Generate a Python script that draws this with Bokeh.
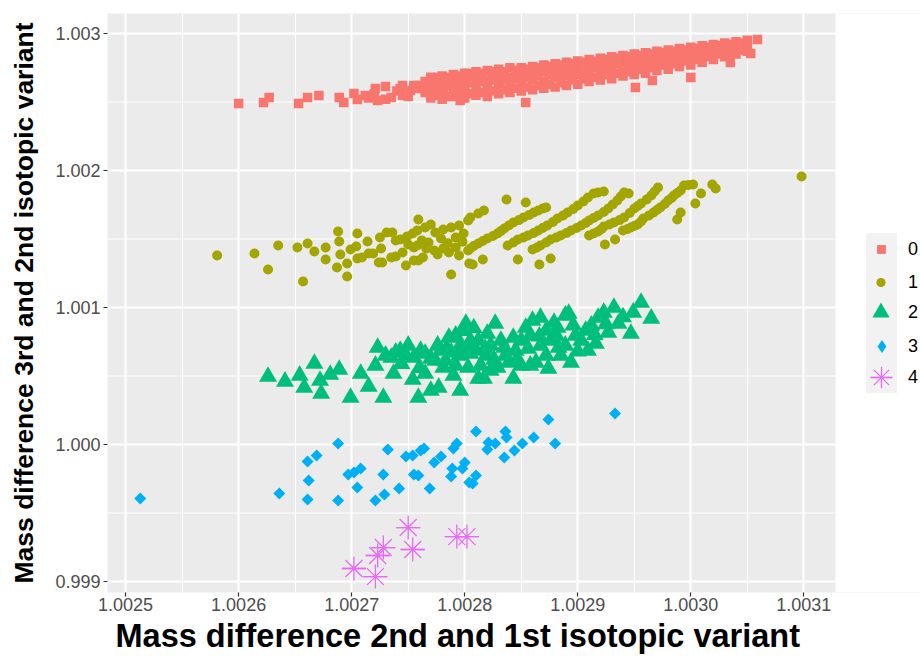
import math
from bokeh.plotting import figure
from bokeh.models import Range1d, FixedTicker, Legend, LegendItem, BoxAnnotation, Title
from bokeh.embed import file_html
from bokeh.resources import INLINE

# ---------------- data ----------------
categories = ["0", "1", "2", "3", "4"]
colors = ["#F8766D", "#A3A500", "#00BF7D", "#00B0F6", "#E76BF3"]

x_ticks = [1.0025, 1.0026, 1.0027, 1.0028, 1.0029, 1.0030, 1.0031]
x_tick_labels = ["1.0025", "1.0026", "1.0027", "1.0028", "1.0029", "1.0030", "1.0031"]
x_minor = [1.00255, 1.00265, 1.00275, 1.00285, 1.00295, 1.00305]
y_ticks = [0.999, 1.000, 1.001, 1.002, 1.003]
y_tick_labels = ["0.999", "1.000", "1.001", "1.002", "1.003"]
y_minor = [0.9995, 1.0005, 1.0015, 1.0025]

# panel limits
x_limits = (1.002484, 1.003128)
y_limits = (0.99892, 1.003146)

x_title = "Mass difference 2nd and 1st isotopic variant"
y_title = "Mass difference 3rd and 2nd isotopic variant"

pts0 = [
    (1.002600, 1.002489), (1.002622, 1.002496), (1.002627, 1.002533), (1.002653, 1.002489),
    (1.002661, 1.002533), (1.002671, 1.002547), (1.002689, 1.002533), (1.002693, 1.002496),
    (1.002702, 1.002562), (1.002705, 1.002518), (1.002712, 1.002547), (1.002721, 1.002598),
    (1.002723, 1.002511), (1.002730, 1.002613), (1.002735, 1.002533), (1.002743, 1.002598),
    (1.002752, 1.002584), (1.002758, 1.002598), (1.002767, 1.002620), (1.002776, 1.002679),
    (1.002781, 1.002598), (1.002790, 1.002679), (1.002796, 1.002511), (1.002803, 1.002708),
    (1.002720, 1.002560), (1.002740, 1.002580), (1.002750, 1.002540), (1.002760, 1.002620),
    (1.002730, 1.002520), (1.002715, 1.002530), (1.002745, 1.002550), (1.002755, 1.002620),
    (1.002765, 1.002570), (1.002765, 1.002650), (1.002745, 1.002620),
    (1.002854, 1.002496), (1.002951, 1.002606), (1.002966, 1.002657), (1.003000, 1.002679),
    (1.003059, 1.002956), (1.003053, 1.002854), (1.003035, 1.002788),
    (1.00277, 1.00253), (1.00277, 1.00259), (1.00277, 1.00264), (1.00277, 1.00268),
    (1.00278, 1.00252), (1.00278, 1.00257), (1.00278, 1.00263), (1.00278, 1.00269),
    (1.00279, 1.00254), (1.00279, 1.00260), (1.00279, 1.00266), (1.00279, 1.00270),
    (1.00280, 1.00253), (1.00280, 1.00258), (1.00280, 1.00264), (1.00280, 1.00271),
    (1.00281, 1.00255), (1.00281, 1.00261), (1.00281, 1.00267), (1.00281, 1.00272),
    (1.00282, 1.00254), (1.00282, 1.00260), (1.00282, 1.00266), (1.00282, 1.00273),
    (1.00283, 1.00256), (1.00283, 1.00263), (1.00283, 1.00269), (1.00283, 1.00274),
    (1.00284, 1.00257), (1.00284, 1.00262), (1.00284, 1.00268), (1.00284, 1.00275),
    (1.00285, 1.00258), (1.00285, 1.00264), (1.00285, 1.00270), (1.00285, 1.00275),
    (1.00286, 1.00259), (1.00286, 1.00266), (1.00286, 1.00271), (1.00286, 1.00276),
    (1.00287, 1.00260), (1.00287, 1.00265), (1.00287, 1.00272), (1.00287, 1.00277),
    (1.00288, 1.00261), (1.00288, 1.00268), (1.00288, 1.00273), (1.00288, 1.00278),
    (1.00289, 1.00262), (1.00289, 1.00269), (1.00289, 1.00275), (1.00289, 1.00279),
    (1.00290, 1.00263), (1.00290, 1.00270), (1.00290, 1.00274), (1.00290, 1.00280),
    (1.00291, 1.00265), (1.00291, 1.00271), (1.00291, 1.00276), (1.00291, 1.00281),
    (1.00292, 1.00266), (1.00292, 1.00272), (1.00292, 1.00278), (1.00292, 1.00282),
    (1.00293, 1.00267), (1.00293, 1.00274), (1.00293, 1.00279), (1.00293, 1.00283),
    (1.00294, 1.00269), (1.00294, 1.00275), (1.00294, 1.00280), (1.00294, 1.00284),
    (1.00295, 1.00270), (1.00295, 1.00276), (1.00295, 1.00281), (1.00295, 1.00285),
    (1.00296, 1.00271), (1.00296, 1.00277), (1.00296, 1.00282), (1.00296, 1.00286),
    (1.00297, 1.00273), (1.00297, 1.00279), (1.00297, 1.00283), (1.00297, 1.00287),
    (1.00298, 1.00274), (1.00298, 1.00280), (1.00298, 1.00285), (1.00298, 1.00288),
    (1.00299, 1.00276), (1.00299, 1.00281), (1.00299, 1.00286), (1.00299, 1.00289),
    (1.00300, 1.00277), (1.00300, 1.00283), (1.00300, 1.00287), (1.00300, 1.00290),
    (1.00301, 1.00279), (1.00301, 1.00284), (1.00301, 1.00288), (1.00301, 1.00291),
    (1.00302, 1.00281), (1.00302, 1.00286), (1.00302, 1.00290), (1.00302, 1.00292),
    (1.00303, 1.00283), (1.00303, 1.00287), (1.00303, 1.00291), (1.00303, 1.00293),
    (1.00304, 1.00285), (1.00304, 1.00289), (1.00304, 1.00292), (1.00304, 1.00294),
    (1.00305, 1.00287), (1.00305, 1.00290), (1.00305, 1.00293), (1.00305, 1.00295),
    (1.002775, 1.00255), (1.002775, 1.00261), (1.002775, 1.00266),
    (1.002785, 1.00254), (1.002785, 1.00262), (1.002785, 1.00268),
    (1.002795, 1.00256), (1.002795, 1.00263), (1.002795, 1.00269),
    (1.002805, 1.00256), (1.002805, 1.00264), (1.002805, 1.00270),
    (1.002815, 1.00257), (1.002815, 1.00265), (1.002815, 1.00271),
    (1.002825, 1.00258), (1.002825, 1.00266), (1.002825, 1.00272),
    (1.002835, 1.00259), (1.002835, 1.00266), (1.002835, 1.00272),
    (1.002845, 1.00260), (1.002845, 1.00267), (1.002845, 1.00273),
    (1.002855, 1.00261), (1.002855, 1.00268), (1.002855, 1.00274),
    (1.002865, 1.00262), (1.002865, 1.00269), (1.002865, 1.00275),
    (1.002875, 1.00263), (1.002875, 1.00270), (1.002875, 1.00276),
    (1.002885, 1.00264), (1.002885, 1.00271), (1.002885, 1.00277),
    (1.002895, 1.00266), (1.002895, 1.00272), (1.002895, 1.00278),
    (1.002905, 1.00267), (1.002905, 1.00274), (1.002905, 1.00279),
    (1.002915, 1.00268), (1.002915, 1.00275), (1.002915, 1.00280),
    (1.002925, 1.00270), (1.002925, 1.00276), (1.002925, 1.00281),
    (1.002935, 1.00271), (1.002935, 1.00278), (1.002935, 1.00282),
    (1.002945, 1.00272), (1.002945, 1.00279), (1.002945, 1.00283),
    (1.002955, 1.00274), (1.002955, 1.00280), (1.002955, 1.00284),
    (1.002965, 1.00275), (1.002965, 1.00281), (1.002965, 1.00285),
    (1.002975, 1.00277), (1.002975, 1.00282), (1.002975, 1.00286),
    (1.002985, 1.00278), (1.002985, 1.00284), (1.002985, 1.00287),
    (1.002995, 1.00280), (1.002995, 1.00285), (1.002995, 1.00288),
    (1.003005, 1.00281), (1.003005, 1.00286), (1.003005, 1.00289),
    (1.003015, 1.00283), (1.003015, 1.00287), (1.003015, 1.00290),
    (1.003025, 1.00285), (1.003025, 1.00289), (1.003025, 1.00291),
    (1.003035, 1.00286), (1.003035, 1.00290), (1.003035, 1.00292),
    (1.003045, 1.00288), (1.003045, 1.00291), (1.003045, 1.00293),
]

pts1 = [
    (1.002581, 1.001380), (1.002614, 1.001394), (1.002626, 1.001277), (1.002635, 1.001453),
    (1.002652, 1.001438), (1.002657, 1.001190), (1.002661, 1.001467), (1.002667, 1.001409),
    (1.002677, 1.001438), (1.002677, 1.001350), (1.002687, 1.001292), (1.002688, 1.001555),
    (1.002689, 1.001482), (1.002690, 1.001387), (1.002696, 1.001321), (1.002696, 1.001226),
    (1.002699, 1.001423), (1.002704, 1.001445), (1.002705, 1.001540), (1.002705, 1.001358),
    (1.002709, 1.001365), (1.002714, 1.001482), (1.002715, 1.001394), (1.002719, 1.001394),
    (1.002725, 1.001511), (1.002726, 1.001431), (1.002724, 1.001328), (1.002727, 1.001328),
    (1.002731, 1.001547), (1.002736, 1.001547), (1.002735, 1.001365), (1.002739, 1.001489),
    (1.002739, 1.001372), (1.002743, 1.001496), (1.002745, 1.001401), (1.002748, 1.001307),
    (1.002749, 1.001518), (1.002754, 1.001540), (1.002755, 1.001438), (1.002755, 1.001343),
    (1.002759, 1.001642), (1.002758, 1.001562), (1.002758, 1.001453), (1.002759, 1.001343),
    (1.002763, 1.001365), (1.002765, 1.001584), (1.002770, 1.001606), (1.002768, 1.001474),
    (1.002773, 1.001416), (1.002774, 1.001547), (1.002779, 1.001504), (1.002781, 1.001569),
    (1.002781, 1.001431), (1.002788, 1.001241), (1.002788, 1.001584), (1.002792, 1.001511),
    (1.002792, 1.001438), (1.002795, 1.001599), (1.002795, 1.001380), (1.002799, 1.001540),
    (1.002803, 1.001635), (1.002803, 1.001416), (1.002804, 1.001321),
    (1.002750, 1.001460), (1.002762, 1.001490), (1.002785, 1.001470), (1.002798, 1.001480),
    (1.002776, 1.001387), (1.002786, 1.001401), (1.002766, 1.001431),
    (1.002805, 1.001657), (1.002812, 1.001686), (1.002817, 1.001708),
    (1.002805, 1.001431), (1.002812, 1.001467), (1.002820, 1.001504), (1.002829, 1.001540),
    (1.002835, 1.001577), (1.002843, 1.001620), (1.002852, 1.001657), (1.002861, 1.001693),
    (1.002869, 1.001723), (1.002872, 1.001730), (1.002837, 1.001788), (1.002854, 1.001766),
    (1.002808, 1.001449), (1.002816, 1.001486), (1.002825, 1.001522), (1.002832, 1.001558),
    (1.002839, 1.001598), (1.002848, 1.001638), (1.002857, 1.001675), (1.002865, 1.001708),
    (1.002838, 1.001453), (1.002847, 1.001496), (1.002856, 1.001526), (1.002865, 1.001562),
    (1.002873, 1.001599), (1.002882, 1.001650), (1.002891, 1.001693), (1.002900, 1.001745),
    (1.002909, 1.001803), (1.002914, 1.001832), (1.002923, 1.001847),
    (1.002843, 1.001474), (1.002852, 1.001511), (1.002861, 1.001544), (1.002869, 1.001580),
    (1.002878, 1.001624), (1.002887, 1.001672), (1.002896, 1.001719), (1.002905, 1.001774),
    (1.002918, 1.001840),
    (1.002860, 1.001423), (1.002867, 1.001453), (1.002876, 1.001496), (1.002885, 1.001526),
    (1.002894, 1.001562), (1.002903, 1.001599), (1.002910, 1.001635), (1.002918, 1.001672),
    (1.002927, 1.001723), (1.002935, 1.001781), (1.002941, 1.001839), (1.002945, 1.001832),
    (1.002864, 1.001438), (1.002872, 1.001474), (1.002881, 1.001511), (1.002890, 1.001544),
    (1.002899, 1.001580), (1.002907, 1.001617), (1.002914, 1.001653), (1.002923, 1.001697),
    (1.002931, 1.001752), (1.002938, 1.001810),
    (1.002910, 1.001526), (1.002918, 1.001555), (1.002923, 1.001591), (1.002932, 1.001620),
    (1.002941, 1.001657), (1.002950, 1.001723), (1.002956, 1.001759), (1.002965, 1.001818),
    (1.002971, 1.001876),
    (1.002914, 1.001540), (1.002921, 1.001573), (1.002928, 1.001606), (1.002937, 1.001638),
    (1.002946, 1.001690), (1.002953, 1.001741), (1.002961, 1.001788), (1.002968, 1.001847),
    (1.002940, 1.001562), (1.002947, 1.001584), (1.002953, 1.001606), (1.002958, 1.001650),
    (1.002967, 1.001693), (1.002973, 1.001730), (1.002980, 1.001781), (1.002985, 1.001818),
    (1.002991, 1.001854), (1.002994, 1.001891), (1.003002, 1.001898),
    (1.002944, 1.001573), (1.002950, 1.001595), (1.002956, 1.001628), (1.002963, 1.001672),
    (1.002970, 1.001712), (1.002977, 1.001755), (1.002983, 1.001800), (1.002988, 1.001836),
    (1.002998, 1.001895),
    (1.003019, 1.001898), (1.003022, 1.001869), (1.003009, 1.001832), (1.003004, 1.001759),
    (1.002991, 1.001693), (1.002988, 1.001642), (1.003098, 1.001956),
    (1.002807, 1.001314), (1.002816, 1.001350), (1.002847, 1.001350), (1.002866, 1.001314),
    (1.002876, 1.001358), (1.002924, 1.001460), (1.002933, 1.001496),
]

pts2 = [
    (1.002626, 1.000496), (1.002641, 1.000460), (1.002654, 1.000504), (1.002658, 1.000416),
    (1.002667, 1.000591), (1.002672, 1.000467), (1.002673, 1.000372), (1.002681, 1.000511),
    (1.002689, 1.000547), (1.002699, 1.000343), (1.002708, 1.000518), (1.002715, 1.000423),
    (1.002723, 1.000708), (1.002721, 1.000577), (1.002728, 1.000343), (1.002735, 1.000635),
    (1.002737, 1.000518), (1.002743, 1.000686), (1.002750, 1.000723), (1.002754, 1.000474),
    (1.002755, 1.000635), (1.002759, 1.000343), (1.002765, 1.000664), (1.002765, 1.000518),
    (1.002770, 1.000394), (1.002776, 1.000723), (1.002777, 1.000416), (1.002781, 1.000562),
    (1.002786, 1.000781), (1.002790, 1.000504), (1.002792, 1.000796), (1.002796, 1.000394),
    (1.002801, 1.000883), (1.002803, 1.000701), (1.002803, 1.000562),
    (1.002827, 1.000883), (1.002820, 1.000810), (1.002812, 1.000759), (1.002805, 1.000664),
    (1.002814, 1.000577), (1.002812, 1.000482), (1.002817, 1.000482), (1.002829, 1.000562),
    (1.002839, 1.000599), (1.002843, 1.000482), (1.002835, 1.000708), (1.002843, 1.000781),
    (1.002854, 1.000854), (1.002860, 1.000905), (1.002867, 1.000927), (1.002858, 1.000577),
    (1.002863, 1.000599), (1.002872, 1.000650), (1.002876, 1.000759), (1.002882, 1.000854),
    (1.002889, 1.000942), (1.002892, 1.000956), (1.002883, 1.000708), (1.002894, 1.000599),
    (1.002898, 1.000796), (1.002907, 1.000832), (1.002909, 1.000686), (1.002916, 1.000737),
    (1.002918, 1.000927), (1.002923, 1.000964), (1.002932, 1.001000), (1.002927, 1.000818),
    (1.002936, 1.000883), (1.002949, 1.000964), (1.002956, 1.001036), (1.002947, 1.000810),
    (1.002965, 1.000920),
    (1.002730, 1.000650), (1.002739, 1.000672), (1.002748, 1.000650), (1.002761, 1.000686),
    (1.002770, 1.000628), (1.002779, 1.000686), (1.002783, 1.000613), (1.002795, 1.000650),
    (1.002810, 1.000686), (1.002819, 1.000650), (1.002823, 1.000723), (1.002832, 1.000759),
    (1.002836, 1.000650), (1.002845, 1.000686), (1.002850, 1.000759), (1.002858, 1.000796),
    (1.002867, 1.000723), (1.002872, 1.000832), (1.002881, 1.000796), (1.002885, 1.000650),
    (1.002889, 1.000723), (1.002903, 1.000759), (1.002912, 1.000869), (1.002805, 1.000759),
    (1.002796, 1.000723), (1.002788, 1.000672), (1.002774, 1.000613), (1.002792, 1.000577),
    (1.002823, 1.000540), (1.002850, 1.000577), (1.002874, 1.000555),
    (1.002798, 1.000830), (1.002808, 1.000850), (1.002818, 1.000700), (1.002826, 1.000620),
    (1.002846, 1.000620), (1.002856, 1.000700), (1.002866, 1.000790), (1.002879, 1.000890),
    (1.002896, 1.000870), (1.002900, 1.000680), (1.002915, 1.000800), (1.002925, 1.000880),
    (1.002940, 1.000930), (1.002784, 1.000700), (1.002760, 1.000560), (1.002744, 1.000590),
]

pts3 = [
    (1.002513, 0.999606), (1.002636, 0.999642), (1.002661, 0.999876), (1.002669, 0.999920),
    (1.002688, 1.000007), (1.002662, 0.999737), (1.002661, 0.999599), (1.002688, 0.999591),
    (1.002697, 0.999781), (1.002702, 0.999796), (1.002708, 0.999825), (1.002705, 0.999686),
    (1.002732, 0.999964), (1.002728, 0.999781), (1.002729, 0.999635), (1.002721, 0.999591),
    (1.002742, 0.999679), (1.002748, 0.999912), (1.002754, 0.999920), (1.002761, 0.999956),
    (1.002764, 0.999971), (1.002755, 0.999781), (1.002759, 0.999774), (1.002769, 0.999679),
    (1.002773, 0.999869), (1.002779, 0.999912), (1.002788, 0.999766), (1.002789, 0.999825),
    (1.002798, 0.999825), (1.002790, 0.999971), (1.002793, 1.000007), (1.002800, 0.999869),
    (1.002804, 0.999723), (1.002810, 1.000095), (1.002821, 1.000015), (1.002820, 0.999964),
    (1.002827, 1.000007), (1.002836, 1.000095), (1.002837, 1.000051), (1.002835, 0.999905),
    (1.002844, 0.999956), (1.002851, 1.000007), (1.002861, 1.000051), (1.002874, 1.000182),
    (1.002880, 1.000007), (1.002933, 1.000226), (1.002810, 0.999774), (1.002807, 0.999715),
]

pts4 = [
    (1.002702, 0.999095), (1.002721, 0.999036), (1.002723, 0.999190), (1.002728, 0.999248),
    (1.002750, 0.999394), (1.002754, 0.999234), (1.002793, 0.999328), (1.002802, 0.999328),
]

series = [pts0, pts1, pts2, pts3, pts4]
xs = [[p[0] for p in s] for s in series]
ys = [[p[1] for p in s] for s in series]

# ---------------- layout constants (pixels) ----------------
W, H = 920, 660
PANEL_L, PANEL_R, PANEL_T, PANEL_B = 107, 835, 13, 592
FONT = "Liberation Sans"

# the frame extends to the right edge so the legend can live inside it;
# the grey ggplot panel is limited to x_limits
x_lo, x_hi_panel = x_limits
x_hi_frame = x_lo + (x_hi_panel - x_lo) * (W - PANEL_L) / (PANEL_R - PANEL_L)

p = figure(width=W, height=H, output_backend="svg", toolbar_location=None,
           x_range=Range1d(x_lo, x_hi_frame), y_range=Range1d(*y_limits),
           min_border_left=PANEL_L, min_border_right=0, min_border_top=PANEL_T,
           min_border_bottom=H - PANEL_B)
p.background_fill_color = "#EBEBEB"
p.border_fill_color = "white"
p.outline_line_color = None

p.xaxis.ticker = FixedTicker(ticks=x_ticks, minor_ticks=x_minor)
p.yaxis.ticker = FixedTicker(ticks=y_ticks, minor_ticks=y_minor)
p.xaxis.major_label_overrides = {t: l for t, l in zip(x_ticks, x_tick_labels)}
p.yaxis.major_label_overrides = {t: l for t, l in zip(y_ticks, y_tick_labels)}

p.xgrid.grid_line_color = "white"
p.xgrid.grid_line_width = 2
p.xgrid.minor_grid_line_color = "white"
p.xgrid.minor_grid_line_width = 1
p.ygrid.grid_line_color = None

# white area to the right of the grey panel (legend area)
p.add_layout(BoxAnnotation(left=x_hi_panel, fill_color="white", fill_alpha=1,
                           line_alpha=0, level="underlay"))

# horizontal grid lines limited to the panel
p.segment(x0=[x_lo] * len(y_minor), y0=y_minor, x1=[x_hi_panel] * len(y_minor), y1=y_minor,
          line_color="white", line_width=1)
p.segment(x0=[x_lo] * len(y_ticks), y0=y_ticks, x1=[x_hi_panel] * len(y_ticks), y1=y_ticks,
          line_color="white", line_width=2)

for ax in (p.xaxis, p.yaxis):
    ax.axis_line_color = None
    ax.major_tick_line_color = "#333333"
    ax.major_tick_line_width = 1.2
    ax.major_tick_out = 4
    ax.major_tick_in = 0
    ax.minor_tick_line_color = None
    ax.major_label_text_font = FONT
    ax.major_label_text_font_size = "18px"
    ax.major_label_text_color = "#4D4D4D"

p.xaxis.major_label_standoff = 1
p.yaxis.major_label_standoff = 3
p.yaxis.axis_label = y_title
p.yaxis.axis_label_text_font = FONT
p.yaxis.axis_label_text_font_style = "bold"
p.yaxis.axis_label_text_font_size = "26.5px"
p.yaxis.axis_label_text_color = "black"
p.yaxis.axis_label_standoff = 13

xt = Title(text=x_title, align="left", offset=8, text_font=FONT, text_font_style="bold",
           text_font_size="32.5px", text_color="black", standoff=4)
p.add_layout(xt, "below")

r0 = p.scatter(xs[0], ys[0], marker="square", size=9.5, fill_color=colors[0], line_color=None)
r1 = p.scatter(xs[1], ys[1], marker="circle", size=10, fill_color=colors[1], line_color=None)
r2 = p.scatter(xs[2], ys[2], marker="triangle", size=18, fill_color=colors[2], line_color=None)
# diamond-shaped key glyph for the legend; drawn small and hidden beneath the series-3 marks
r3_key = p.scatter(xs[3], ys[3], marker="diamond", size=5, fill_color=colors[3], line_color=None)
r3 = p.scatter(xs[3], ys[3], marker="square", angle=math.pi / 4, size=8.5,
               fill_color=colors[3], line_color=None)
r4a = p.scatter(xs[4], ys[4], marker="asterisk", size=24, line_color=colors[4], line_width=1.3)
r4b = p.scatter(xs[4], ys[4], marker="dash", size=24, line_color=colors[4], line_width=1.3)

# ---- legend (inside the extended frame, right of the grey panel) ----
dummy = p.scatter(xs[0], ys[0], marker="square", size=0, fill_alpha=0, line_alpha=0)
key_l, key_r, key_t, key_b = 866, 897, 233, 393
bg = Legend(items=[LegendItem(label="", renderers=[dummy])],
            location=(key_l - PANEL_L, PANEL_B - key_b),
            glyph_width=key_r - key_l, glyph_height=key_b - key_t,
            label_width=0, label_height=0, label_standoff=0,
            padding=0, margin=0, spacing=0, background_fill_color="#F2F2F2",
            background_fill_alpha=1, border_line_color=None)
p.add_layout(bg)

key_cx = 881 - PANEL_L
label_x = 908 - PANEL_L
row_page_y = [249, 282, 312, 346, 377]
glyph_w = [22, 23, 43, 33, 54]
GH = 54
rends = [[r0], [r1], [r2], [r3_key], [r4a, r4b]]
for i in range(5):
    gw = glyph_w[i]
    loc_x = int(round(key_cx - gw / 2))
    loc_y = int(round(PANEL_B - row_page_y[i] - GH / 2))
    leg = Legend(items=[LegendItem(label=categories[i], renderers=rends[i])],
                 location=(loc_x, loc_y),
                 glyph_width=gw, glyph_height=GH, label_height=GH,
                 label_standoff=int(label_x - loc_x - gw),
                 padding=0, margin=0, spacing=0, background_fill_alpha=0,
                 border_line_alpha=0, label_text_font=FONT,
                 label_text_font_size="18px", label_text_color="black")
    p.add_layout(leg)

open("out.html", "w").write(file_html(p, INLINE))
